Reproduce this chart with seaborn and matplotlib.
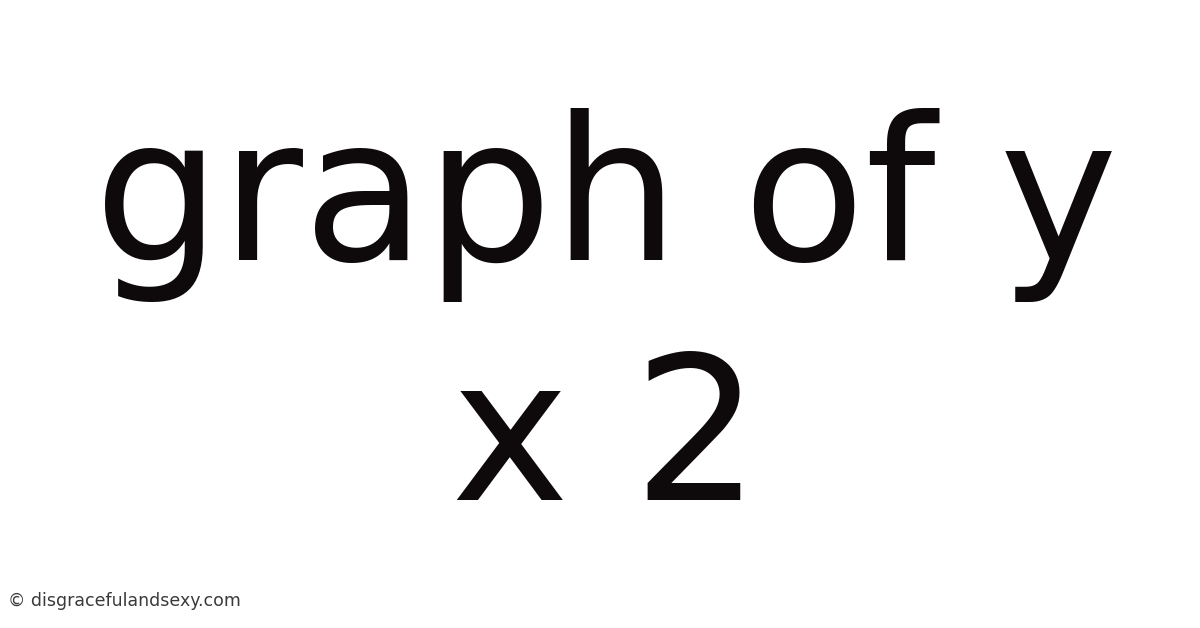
import matplotlib
matplotlib.use("Agg")
import matplotlib.pyplot as plt
import seaborn as sns

title_lines = ["graph of y", "x 2"]
line_baselines = [260, 500]  # pixel rows of the baselines
footer = "© disgracefulandsexy.com"

sns.set_theme(style="white")
plt.rcParams['font.family'] = ['DejaVu Sans']

W, H = 1200, 628
fig = plt.figure(figsize=(W / 100, H / 100), dpi=100)
ax = fig.add_axes([0, 0, 1, 1])
ax.set_xlim(0, W)
ax.set_ylim(H, 0)
ax.axis("off")

for txt, yb in zip(title_lines, line_baselines):
    ax.text(W / 2 + 6, yb, txt, ha="center", va="baseline",
            fontsize=144, color="#0e0a0b")

ax.text(8, 606, footer, ha="left", va="baseline", fontsize=12.5, color="#3a3a3a")

fig.savefig("out.png", dpi=100, facecolor="white")
